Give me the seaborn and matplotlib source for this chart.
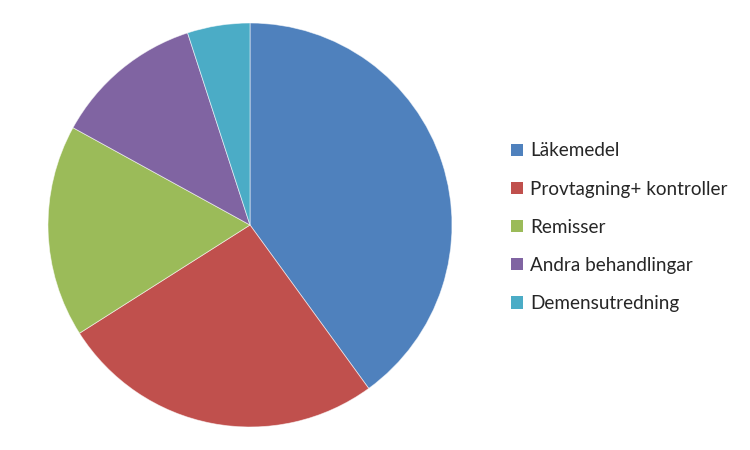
import matplotlib
matplotlib.use("Agg")
import matplotlib.pyplot as plt
import seaborn as sns
from matplotlib.patches import Patch

categories = ["Läkemedel", "Provtagning+ kontroller", "Remisser", "Andra behandlingar", "Demensutredning"]
values = [40, 26, 17, 12, 5]
colors = ["#4F81BD", "#C0504D", "#9BBB59", "#8064A2", "#4BACC6"]

sns.set_theme(style="white")
plt.rcParams['font.family'] = ['Lato', 'DejaVu Sans']

fig = plt.figure(figsize=(7.5, 4.5), dpi=100)
W, H = 750, 450
cx, cy, r = 250, 225, 202
ax = fig.add_axes([(cx - r) / W, (H - cy - r) / H, 2 * r / W, 2 * r / H])
ax.pie(values, colors=colors, startangle=90, counterclock=False, radius=1,
       wedgeprops=dict(edgecolor=(1, 1, 1, 0.6), linewidth=0.6))
ax.set_xlim(-1, 1)
ax.set_ylim(-1, 1)
ax.set_aspect("equal")
ax.axis("off")

handles = [Patch(facecolor=c, edgecolor="none") for c in colors]
fig.legend(handles, categories, loc="upper left", bbox_to_anchor=(511 / W, 1 - 142.5 / H),
           frameon=False, fontsize=13.6, handlelength=0.62, handleheight=0.62,
           handletextpad=0.4, labelspacing=1.12, borderpad=0, borderaxespad=0)

fig.savefig("out.png", dpi=100)
